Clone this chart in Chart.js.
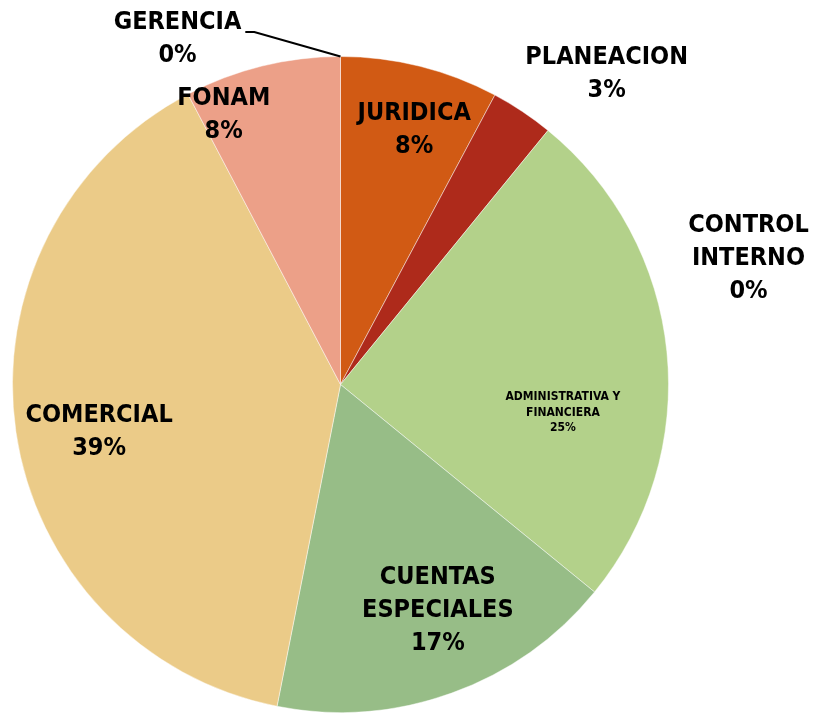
<!DOCTYPE html>
<html>
<head>
<meta charset="utf-8">
<script src="https://cdn.jsdelivr.net/npm/chart.js@4/dist/chart.umd.min.js"></script>
<style>
  html, body { margin: 0; padding: 0; background: #fff; }
  #wrap { width: 813px; height: 713px; }
</style>
</head>
<body>
<div id="wrap"><canvas id="pie" width="813" height="713"></canvas></div>
<script>
// Pie of share per area, clockwise from 12 o'clock.

const AREAS = ["JURIDICA", "PLANEACION", ["CONTROL", "INTERNO"], ["ADMINISTRATIVA Y", "FINANCIERA"],
               ["CUENTAS", "ESPECIALES"], "COMERCIAL", "FONAM", "GERENCIA"];
const SHARES = [7.8, 3.1, 0, 25.0, 17.2, 39.2, 7.7, 0];
const COLORS = ["#D15A14", "#AE2A1B", "#8DB3E2", "#B3D18A", "#97BD87", "#EBCB88", "#ECA088", "#9E9E9E"];

// label placement: radius factor from centre, then a nudge in px
const LABEL_RADIUS = [0.8, 1.2, 1.2, 0.7, 0.75, 0.75, 0.85, 1.0];
const LABEL_SHIFT = [[10, 0], [48, 17], [159, 179], [-6, 51], [14, -5], [2, 12], [-50, 1], [-163, -18]];
const LABEL_SIZE = [25, 25, 25, 12, 25, 25, 25, 25];
const LEADER = [false, false, false, false, false, false, false, true];

const FONT_FAMILY = '"DejaVu Sans Condensed", "DejaVu Sans", sans-serif';

const labelPlugin = {
  id: "sliceLabels",
  afterDatasetsDraw(chart) {
    const ctx = chart.ctx;
    const arcs = chart.getDatasetMeta(0).data;
    const total = SHARES.reduce(function (a, b) { return a + b; }, 0);
    ctx.save();
    ctx.fillStyle = "#000";
    ctx.textAlign = "center";
    ctx.textBaseline = "middle";
    try { ctx.fontStretch = "condensed"; } catch (e) {}
    arcs.forEach(function (arc, i) {
      const p = arc.getProps(["x", "y", "startAngle", "endAngle", "outerRadius"], true);
      const mid = (p.startAngle + p.endAngle) / 2;
      const r = p.outerRadius * LABEL_RADIUS[i];
      const ax = p.x + Math.cos(mid) * r;
      const ay = p.y + Math.sin(mid) * r;
      const cx = ax + LABEL_SHIFT[i][0];
      const cy = ay + LABEL_SHIFT[i][1];

      const size = LABEL_SIZE[i];
      const lh = size >= 20 ? 33 : 15.5;
      const lines = [].concat(AREAS[i]);
      lines.push(Math.round(SHARES[i] / total * 100) + "%");
      ctx.font = "bold " + size + "px " + FONT_FAMILY;
      const top = cy - (lines.length - 1) * lh / 2;
      lines.forEach(function (t, k) { ctx.fillText(t, cx, top + k * lh); });

      if (LEADER[i]) {
        const w = ctx.measureText(lines[0]).width;
        const sx = cx + w / 2 + 4;
        const sy = top + 10;
        const ex = p.x + Math.cos(mid) * p.outerRadius;
        const ey = p.y + Math.sin(mid) * p.outerRadius;
        ctx.strokeStyle = "#000";
        ctx.lineWidth = 2;
        ctx.beginPath();
        ctx.moveTo(sx, sy);
        ctx.lineTo(sx + 9, sy);
        ctx.lineTo(ex, ey);
        ctx.stroke();
      }
    });
    ctx.restore();
  }
};

new Chart(document.getElementById("pie").getContext("2d"), {
  type: "pie",
  data: {
    labels: AREAS.map(function (a) { return [].concat(a).join(" "); }),
    datasets: [{
      data: SHARES,
      backgroundColor: COLORS,
      borderColor: "rgba(255,255,255,0.45)",
      borderWidth: 1
    }]
  },
  options: {
    responsive: false,
    animation: false,
    rotation: 0,
    layout: { padding: { left: 12, right: 144, top: 56, bottom: 0 } },
    plugins: { legend: { display: false }, tooltip: { enabled: false } }
  },
  plugins: [labelPlugin]
});
</script>
</body>
</html>
